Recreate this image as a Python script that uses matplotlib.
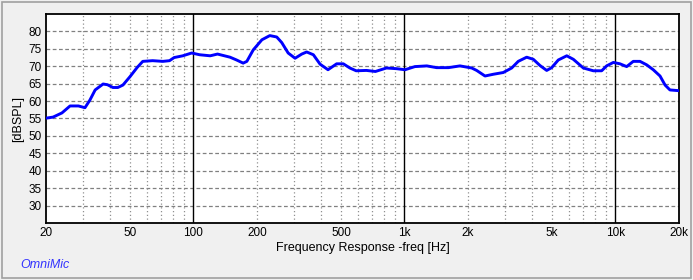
import numpy as np
import matplotlib.pyplot as plt
from matplotlib.ticker import FixedLocator, NullFormatter

# -----------------------------
# Data read off the measurement
# -----------------------------

freq = [20, 21.6, 23.8, 26, 28.5, 30.6, 32.3, 34.2, 37.3, 39.1, 41.5, 43.8, 46.3,
        50, 54, 57.5, 64, 71.6, 77, 81, 89, 98, 107, 120, 130, 149, 160, 172, 179,
        192, 211, 230, 248, 262, 281, 303, 326, 344, 370, 398, 434, 477, 513, 551,
        590, 660, 728, 822, 917, 1006, 1120, 1276, 1420, 1615, 1832, 2082, 2198,
        2408, 2636, 2938, 3222, 3460, 3794, 4078, 4389, 4721, 4985, 5358, 5876,
        6312, 7040, 7852, 8600, 9080, 9770, 10500, 11300, 12140, 13070, 14060,
        15100, 16260, 17180, 18120, 19860]
spl = [55.1, 55.4, 56.6, 58.6, 58.6, 58.1, 60.3, 63.2, 64.9, 64.7, 63.9, 63.9, 64.6,
       67.0, 69.6, 71.4, 71.6, 71.4, 71.6, 72.5, 73.0, 73.8, 73.3, 73.0, 73.5, 72.6,
       71.8, 70.9, 71.4, 74.7, 77.6, 78.8, 78.4, 76.8, 73.8, 72.3, 73.5, 74.1, 73.3,
       70.6, 69.0, 70.7, 70.7, 69.5, 68.7, 68.8, 68.5, 69.5, 69.3, 69.0, 69.9, 70.1,
       69.6, 69.6, 70.1, 69.5, 68.8, 67.2, 67.7, 68.2, 69.5, 71.4, 72.6, 72.0, 70.2,
       68.8, 69.6, 71.8, 73.0, 72.0, 69.5, 68.7, 68.7, 70.1, 71.1, 70.7, 69.9, 71.4,
       71.4, 70.4, 69.0, 67.2, 64.6, 63.2, 63.0]

x_ticks = [20, 50, 100, 200, 500, 1000, 2000, 5000, 10000, 20000]
x_labels = ["20", "50", "100", "200", "500", "1k", "2k", "5k", "10k", "20k"]
y_ticks = [30, 35, 40, 45, 50, 55, 60, 65, 70, 75, 80]
decades = [100, 1000, 10000]
minor_lines = [30, 40, 50, 60, 70, 80, 90,
               200, 300, 400, 500, 600, 700, 800, 900,
               2000, 3000, 4000, 5000, 6000, 7000, 8000, 9000]

# -----------------------------
# Plot
# -----------------------------

plt.rcParams['font.family'] = ['Liberation Sans', 'DejaVu Sans']

fig = plt.figure(figsize=(6.93, 2.80), dpi=100, facecolor="#f0f0f0")
fig.patches.append(plt.Rectangle((0.003, 0.006), 0.994, 0.988, transform=fig.transFigure,
                                 fill=False, edgecolor="#a0a0a0", linewidth=1.2))
ax = fig.add_axes([46 / 693, 1 - 223 / 280, 633 / 693, 209 / 280])

ax.set_xscale("log")
ax.set_xlim(20, 20000)
ax.set_ylim(25, 85)

for y in y_ticks:
    ax.axhline(y, color="#808080", linestyle=(0, (3, 2)), linewidth=0.9, zorder=1)
for f in minor_lines:
    ax.axvline(f, color="#909090", linestyle=(0, (1, 2)), linewidth=0.9, zorder=1)
for f in decades:
    ax.axvline(f, color="black", linewidth=1.0, zorder=1)

ax.plot(freq, spl, color="#0000ff", linewidth=2.1, zorder=3)

ax.xaxis.set_major_locator(FixedLocator(x_ticks))
ax.set_xticklabels(x_labels)
ax.xaxis.set_minor_formatter(NullFormatter())
ax.set_yticks(y_ticks)
ax.tick_params(axis="both", which="both", length=0, labelsize=8.5, pad=3)
ax.tick_params(axis="x", pad=3)

for s in ax.spines.values():
    s.set_linewidth(1.3)
    s.set_color("black")

ax.set_xlabel("Frequency Response -freq [Hz]", fontsize=9, labelpad=2)
ax.set_ylabel("[dBSPL]", fontsize=9, labelpad=3)

fig.text(20 / 693, 1 - 265 / 280, "OmniMic", color="#3333ff", fontsize=9,
         style="italic", va="center", ha="left")

plt.savefig("out.png", dpi=100, facecolor=fig.get_facecolor())
